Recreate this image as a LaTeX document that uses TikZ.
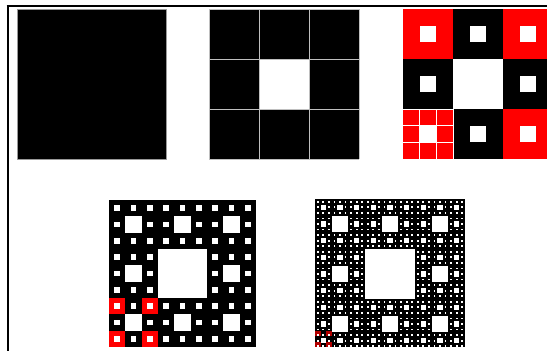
\documentclass[tikz,border=0pt]{standalone}
% white holes of a carpet: x, y, side, depth
\newcommand\carpetholes[4]{%
  \ifnum#4>0
    \pgfmathsetmacro\hs{#3/3}%
    \fill[white] (#1+\hs,#2+\hs) rectangle ++(\hs,\hs);
    \foreach \i/\j in {0/0,1/0,2/0,0/1,2/1,0/2,1/2,2/2}{%
      \pgfmathsetmacro\hx{#1+\i*\hs}%
      \pgfmathsetmacro\hy{#2+\j*\hs}%
      \edef\carpetnext{\noexpand\carpetholes{\hx}{\hy}{\hs}{\the\numexpr#4-1\relax}}%
      \carpetnext
    }%
  \fi}
\begin{document}
\begin{tikzpicture}[x=1pt, y=-1pt, line join=round,
    frame/.style={line width=2pt, black},
    gridline/.style={white!75!black, line width=0.8pt},
    subline/.style={white, line width=1pt}]
	\useasboundingbox (0,0) rectangle (547,351);
	\fill[white] (0,0) rectangle (547,351);
	\clip (0,0) rectangle (547,351);
	\draw[frame] (7.5,351) -- (7.5,5.5);
	\draw[frame] (6.5,5.5) -- (547,5.5);
	% step 0
	\fill[black] (17,9) rectangle ++(149,150);
	\draw[white!60!black, line width=0.5pt] (17,9) rectangle ++(149,150);
	% step 1
	\fill[black] (209,9) rectangle ++(150,150);
	\carpetholes{209}{9}{150}{1}
	\foreach \k in {0,1,2,3}
		\draw[gridline] (209+\k*50,9) -- ++(0,150) (209,9+\k*50) -- ++(150,0);
	% step 2, corner pieces in red
	\fill[black] (403,9) rectangle ++(150,150);
	\foreach \i/\j in {0/0,2/0,0/2,2/2}
		\fill[red] (403+\i*50,9+\j*50) rectangle ++(50,50);
	\carpetholes{403}{9}{150}{2}
	\foreach \k in {1,2,3}
		\draw[subline] (403+\k*16.667,109) -- ++(0,50) (403,109+\k*16.667) -- ++(50,0);
	\draw[subline] (403,109) -- ++(50,0);
	% step 3
	\fill[black] (109,200) rectangle ++(147,147);
	\foreach \i/\j in {0/6,2/6,0/8,2/8}
		\fill[red] (109+\i*16.333,200+\j*16.333) rectangle ++(16.333,16.333);
	\carpetholes{109}{200}{147}{3}
	% step 4
	\fill[black] (315,199) rectangle ++(150,148);
	\foreach \i/\j in {0/24,2/24,0/26,2/26}
		\fill[red!70!black] (315+\i*5.556,199+\j*5.481) rectangle ++(5.556,5.481);
	\carpetholes{315}{199}{150}{4}
\end{tikzpicture}
\end{document}
